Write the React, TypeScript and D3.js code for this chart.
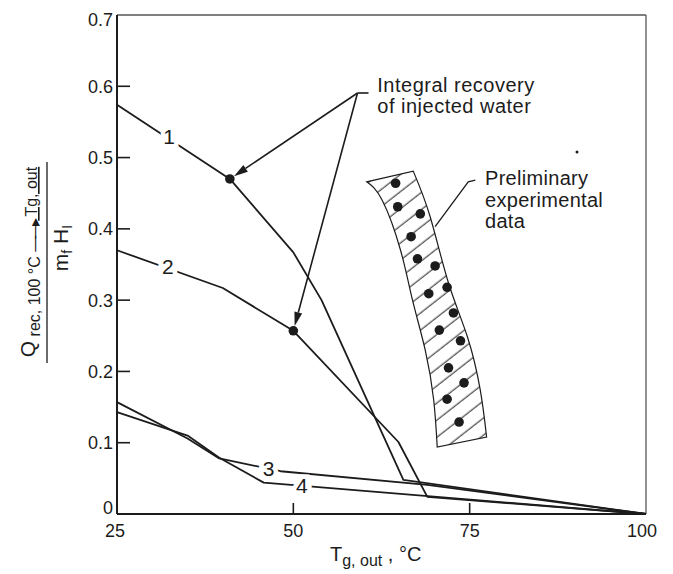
import * as d3 from 'd3';

// curves, x in °C, y as Q / (m_f H_I)
const curve1: [number, number][] = [[25, 0.574], [41, 0.47], [50, 0.367], [54, 0.3], [65.6, 0.048], [100, 0]];
const curve2: [number, number][] = [[25, 0.37], [40, 0.317], [50, 0.257], [64.9, 0.101], [69, 0.024], [100, 0]];
const curve3: [number, number][] = [[25, 0.157], [35, 0.106], [39.5, 0.078], [48.2, 0.06], [69, 0.041], [100, 0]];
const curve4: [number, number][] = [[25, 0.143], [35, 0.11], [39.5, 0.079], [45.8, 0.044], [100, 0]];
const curves = [curve1, curve2, curve3, curve4];

const curveNames = ['1', '2', '3', '4'];
const namePos: [number, number][] = [[32.4, 0.529], [32.2, 0.347], [46.5, 0.064], [51.2, 0.04]];

// integral recovery points
const recoveryPts: [number, number][] = [[41, 0.47], [50, 0.257]];

// preliminary experimental data
const expPts: [number, number][] = [
    [64.5, 0.464], [64.8, 0.431], [68.0, 0.421], [66.7, 0.389], [67.6, 0.358],
    [70.1, 0.348], [71.8, 0.318], [69.2, 0.309], [72.7, 0.282], [70.7, 0.258],
    [73.7, 0.243], [72.0, 0.205], [74.2, 0.184], [71.8, 0.161], [73.5, 0.129],
];
const bandLeft: [number, number][] = [[60.4, 0.466], [62.6, 0.44], [65.2, 0.37], [66.9, 0.3], [68.7, 0.23], [69.9, 0.16], [70.4, 0.094]];
const bandRight: [number, number][] = [[67.0, 0.481], [69.4, 0.417], [72.0, 0.324], [74.7, 0.248], [76.5, 0.174], [77.4, 0.108]];

const xTicks = [25, 50, 75, 100];
const yTicks = [0, 0.1, 0.2, 0.3, 0.4, 0.5, 0.6, 0.7];

const FONT = '"Liberation Sans", Arial, Helvetica, sans-serif';
const INK = '#1c1c1c';

const App = () => {
    const x = d3.scaleLinear().domain([25, 100]).range([117, 646]);
    const y = d3.scaleLinear().domain([0, 0.7]).range([514, 15]);

    const line = d3.line<[number, number]>().x(d => x(d[0])).y(d => y(d[1]));
    const smooth = d3.line<[number, number]>().x(d => x(d[0])).y(d => y(d[1])).curve(d3.curveNatural);
    const bandPath = smooth(bandLeft) + 'L' + (smooth([...bandRight].reverse()) || '').slice(1) + 'Z';

    // annotation anchors (data units)
    const junction: [number, number] = [59.1, 0.5906];
    const jx = x(junction[0]), jy = y(junction[1]);

    const arrowTo = (p: [number, number], key: string) => {
        const tx = x(p[0]), ty = y(p[1]);
        const ang = Math.atan2(ty - jy, tx - jx);
        const ex = tx - Math.cos(ang) * 5, ey = ty - Math.sin(ang) * 5;
        const L = 14, W = 4;
        const bx = ex - Math.cos(ang) * L, by = ey - Math.sin(ang) * L;
        const px = -Math.sin(ang) * W, py = Math.cos(ang) * W;
        return (
            <g key={key}>
                <line x1={jx} y1={jy} x2={bx} y2={by} stroke={INK} strokeWidth={1.6} />
                <path d={`M${ex},${ey}L${bx + px},${by + py}L${bx - px},${by - py}Z`} fill={INK} />
            </g>
        );
    };

    return (
        <svg width={673} height={574} style={{position: 'absolute', left: 0, top: 0, background: '#fff'}}
             fontFamily={FONT} fill={INK}>
            <defs>
                <pattern id="hatch" patternUnits="userSpaceOnUse" width={13.5} height={13.5}
                         patternTransform="rotate(-38)">
                    <line x1={0} y1={6} x2={13.5} y2={6} stroke={INK} strokeWidth={1} />
                </pattern>
            </defs>

            {/* frame */}
            <line x1={x(25)} y1={y(0.7)} x2={x(100)} y2={y(0.7)} stroke="#555" strokeWidth={1.3} />
            <line x1={x(100)} y1={y(0.7)} x2={x(100)} y2={y(0)} stroke="#555" strokeWidth={1.3} />
            <line x1={x(25)} y1={y(0.7)} x2={x(25)} y2={y(0)} stroke={INK} strokeWidth={2} />
            <line x1={x(25)} y1={y(0)} x2={x(100)} y2={y(0)} stroke={INK} strokeWidth={2} />

            {yTicks.map((t, i) => (
                <g key={'y' + t}>
                    {i > 0 && i < yTicks.length - 1 &&
                        <line x1={x(25)} x2={x(25) + 13} y1={y(t)} y2={y(t)} stroke={INK} strokeWidth={1.6} />}
                    <text x={x(25) - 4} y={y(t) + (i === 0 ? -6 : i === yTicks.length - 1 ? 5 : 0)} dy="0.36em"
                          textAnchor="end" fontSize={18}>{t === 0 ? '0' : t.toFixed(1)}</text>
                </g>
            ))}
            {xTicks.map((t, i) => (
                <g key={'x' + t}>
                    {i > 0 && i < xTicks.length - 1 &&
                        <line x1={x(t)} x2={x(t)} y1={y(0)} y2={y(0) - 11} stroke={INK} strokeWidth={1.6} />}
                    <text x={x(t) - (i === 0 ? 2 : i === xTicks.length - 1 ? 4 : 0)} y={537} textAnchor="middle" fontSize={18}>{t}</text>
                </g>
            ))}

            {/* axis titles */}
            <text x={330} y={561} fontSize={20}>T<tspan fontSize={16} dy={5}>g, out</tspan><tspan dy={-5}> , °C</tspan></text>
            <g transform="translate(0,262) rotate(-90)">
                <text x={0} y={35} textAnchor="middle" fontSize={21}>
                    Q<tspan fontSize={16} dy={5}> rec, 100 °C </tspan><tspan fontSize={16} letterSpacing={-3}>——▸</tspan><tspan fontSize={16} dy={-3} textDecoration="underline"> Tg, out</tspan>
                </text>
                <line x1={-101} x2={100} y1={47} y2={47} stroke={INK} strokeWidth={1.3} />
                <text x={14} y={68} textAnchor="middle" fontSize={21}>
                    m<tspan fontSize={14} dy={4}>f</tspan><tspan dy={-4}> H</tspan><tspan fontSize={14} dy={4}>I</tspan>
                </text>
            </g>

            {/* experimental band */}
            <path d={bandPath} fill="url(#hatch)" stroke={INK} strokeWidth={1.2} />
            {expPts.map((p, i) => <circle key={'e' + i} cx={x(p[0])} cy={y(p[1])} r={4.8} fill={INK} />)}

            {/* curves */}
            {curves.map((c, i) => (
                <path key={'c' + i} d={line(c) || ''} fill="none" stroke={INK} strokeWidth={1.8} strokeLinejoin="round" />
            ))}
            {curveNames.map((n, i) => (
                <text key={'n' + i} x={x(namePos[i][0])} y={y(namePos[i][1])} dy="0.36em" textAnchor="middle"
                      fontSize={21} stroke="#fff" strokeWidth={9} paintOrder="stroke">{n}</text>
            ))}
            {recoveryPts.map((p, i) => <circle key={'r' + i} cx={x(p[0])} cy={y(p[1])} r={4.8} fill={INK} />)}

            {/* annotations */}
            <line x1={jx} y1={jy} x2={jx + 11} y2={jy} stroke={INK} strokeWidth={1.6} />
            {recoveryPts.map((p, i) => arrowTo(p, 'a' + i))}
            <text x={x(61.9)} y={92} fontSize={20} letterSpacing={0.5}>
                <tspan x={x(61.9)}>Integral recovery</tspan>
                <tspan x={x(61.9)} dy={21}>of injected water</tspan>
            </text>

            <path d={`M${x(75.8)},${y(0.4685)}L${x(74.8)},${y(0.466)}L${x(70.1)},${y(0.403)}`} fill="none" stroke={INK} strokeWidth={1.3} />
            <text x={485} y={185} fontSize={20} letterSpacing={0.3}>
                <tspan x={485}>Preliminary</tspan>
                <tspan x={485} dy={21.5}>experimental</tspan>
                <tspan x={485} dy={21.5}>data</tspan>
            </text>
            <circle cx={577} cy={152} r={1.5} fill={INK} />
        </svg>
    );
};

export default App;
